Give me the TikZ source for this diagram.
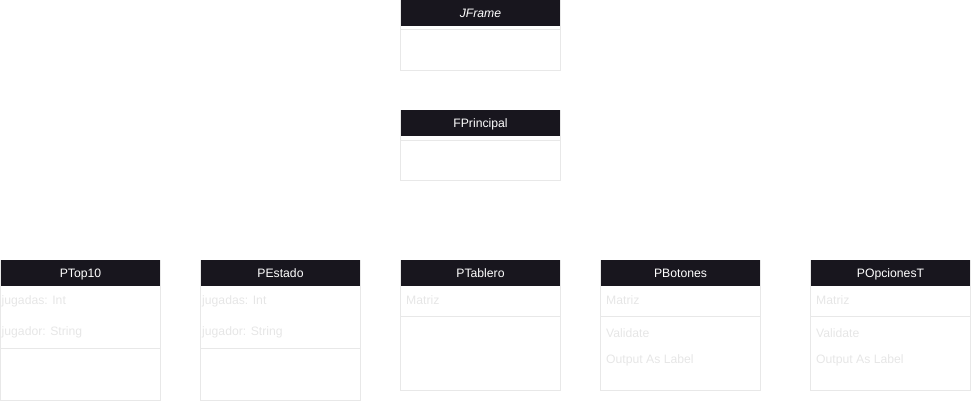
\documentclass[tikz,border=0pt]{standalone}
\usepackage{fontspec}
\setmainfont{Liberation Sans}
\usetikzlibrary{positioning}
\definecolor{HdrFill}{HTML}{18161E}
\definecolor{LineGray}{HTML}{E8E8E8}
\definecolor{TxtGray}{HTML}{E6E6E6}
\tikzset{
  frame/.style={draw=LineGray, line width=1pt, minimum width=160pt, inner sep=0pt, outer sep=0pt, anchor=north west},
  hdr/.style={fill=HdrFill, text=white, minimum width=159pt, minimum height=26pt, inner sep=0pt, outer sep=0pt, text height=9pt, text depth=0pt, anchor=north west, font=\fontsize{12.2}{14}\selectfont},
  attr/.style={text=TxtGray, anchor=west, inner sep=0pt, text height=9pt, text depth=2.5pt, font=\fontsize{12.2}{14}\selectfont},
  sep/.style={draw=LineGray, line width=1pt}
}

\begin{document}
\begin{tikzpicture}[x=1pt,y=-1pt]
\useasboundingbox (0,0) rectangle (971,401);
% top classes
\node[frame, minimum height=70pt] (jframe) at (400.5,0.5) {};
\node[hdr, font=\fontsize{12.2}{14}\selectfont\itshape] (jframeh) at (401,0) {JFrame};
\draw[sep] ([yshift=-29.5pt]jframe.north west) -- ([yshift=-29.5pt]jframe.north east);
\node[frame, minimum height=70pt] (fprincipal) at (400.5,110.5) {};
\node[hdr] (fprincipalh) at (401,110) {FPrincipal};
\draw[sep] ([yshift=-29.5pt]fprincipal.north west) -- ([yshift=-29.5pt]fprincipal.north east);
% panels
\node[frame, minimum height=140pt] (ptop) at (0.5,260.5) {};
\node[hdr] (ptoph) at (1,260) {PTop10};
\draw[sep] ([yshift=-87.5pt]ptop.north west) -- ([yshift=-87.5pt]ptop.north east);
\node[attr] (ptopa) at (1.5,300.8) {jugadas: Int};
\node[attr] (ptopb) at (1.5,332) {jugador: String};
\node[frame, minimum height=140pt] (pestado) at (200.5,260.5) {};
\node[hdr] (pestadoh) at (201,260) {PEstado};
\draw[sep] ([yshift=-87.5pt]pestado.north west) -- ([yshift=-87.5pt]pestado.north east);
\node[attr] (pestadoa) at (202,300.8) {jugadas: Int};
\node[attr] (pestadob) at (202,332) {jugador: String};
\node[frame, minimum height=130pt] (ptablero) at (400.5,260.5) {};
\node[hdr] (ptableroh) at (401,260) {PTablero};
\draw[sep] ([yshift=-55.5pt]ptablero.north west) -- ([yshift=-55.5pt]ptablero.north east);
\node[attr] (ptableroa) at (406,301) {Matriz};
\node[frame, minimum height=130pt] (pbotones) at (600.5,260.5) {};
\node[hdr] (pbotonesh) at (601,260) {PBotones};
\draw[sep] ([yshift=-55.5pt]pbotones.north west) -- ([yshift=-55.5pt]pbotones.north east);
\node[attr] (pbotonesa) at (606,301) {Matriz};
\node[attr] (pbotonesb) at (606,334.5) {Validate};
\node[attr] (pbotonesc) at (606,360.5) {Output As Label};
\node[frame, minimum height=130pt] (popciones) at (810.5,260.5) {};
\node[hdr] (popcionesh) at (811,260) {POpcionesT};
\draw[sep] ([yshift=-55.5pt]popciones.north west) -- ([yshift=-55.5pt]popciones.north east);
\node[attr] (popcionesa) at (816,301) {Matriz};
\node[attr] (popcionesb) at (816,334.5) {Validate};
\node[attr] (popcionesc) at (816,360.5) {Output As Label};
\end{tikzpicture}
\end{document}
